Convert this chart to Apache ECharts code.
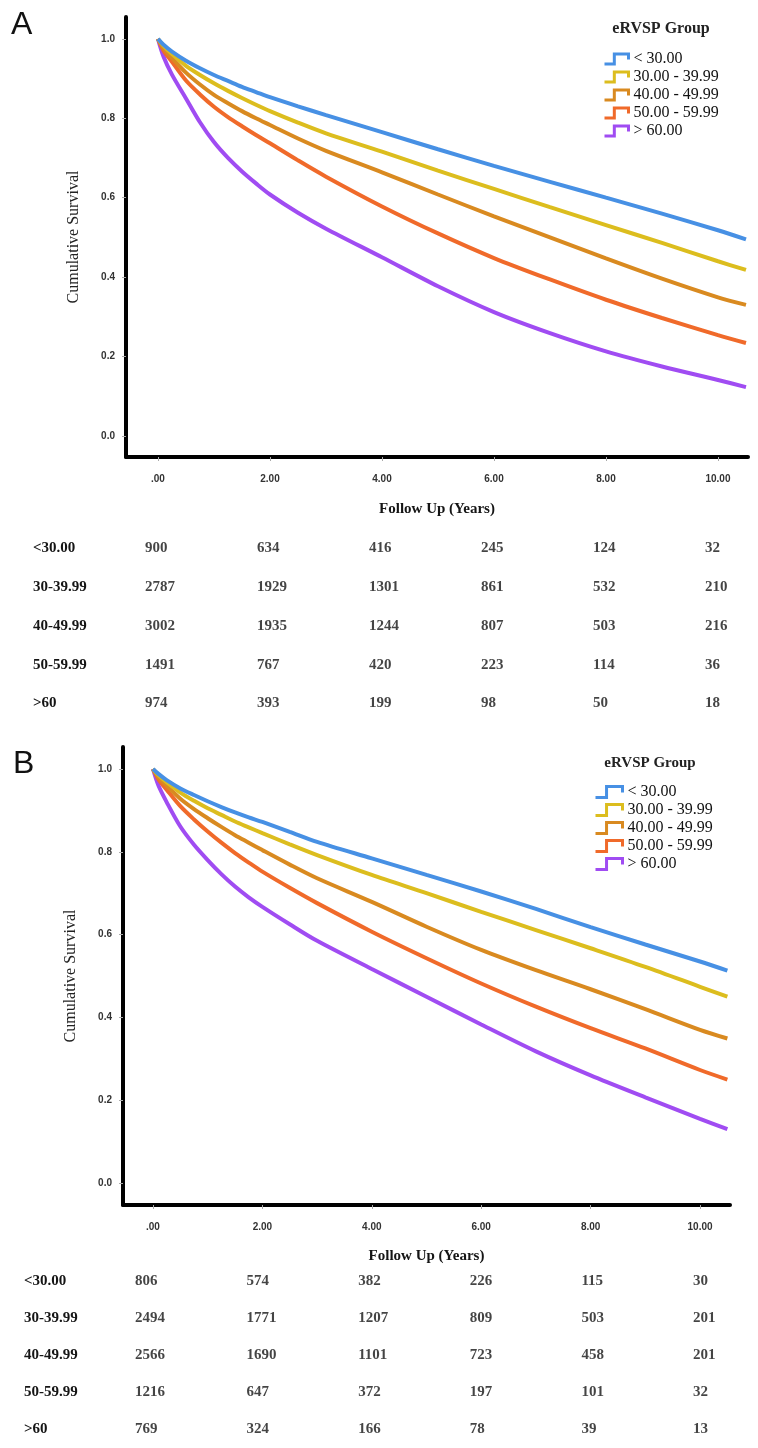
<!DOCTYPE html>
<html>
<head>
<meta charset="utf-8">
<title>eRVSP Group survival</title>
<script src="https://cdn.jsdelivr.net/npm/echarts@6/dist/echarts.min.js"></script>
<style>
  html, body { margin: 0; padding: 0; background: #fff; }
  #main { width: 758px; height: 1448px; }
</style>
</head>
<body>
<div id="main"></div>
<script>
var years = [0, 0.1, 0.25, 0.5, 0.75, 1, 1.25, 1.5, 1.75, 2, 2.5, 3, 4, 5, 6, 7, 8, 9, 10, 10.5];

// panel A survival
var blueA   = [1, 0.985, 0.968, 0.945, 0.926, 0.909, 0.894, 0.879, 0.866, 0.853, 0.830, 0.808, 0.765, 0.722, 0.680, 0.640, 0.600, 0.560, 0.518, 0.495];
var yellowA = [1, 0.982, 0.962, 0.932, 0.909, 0.888, 0.869, 0.851, 0.834, 0.818, 0.789, 0.762, 0.716, 0.668, 0.622, 0.576, 0.531, 0.486, 0.440, 0.418];
var orangeA = [1, 0.976, 0.952, 0.915, 0.885, 0.859, 0.838, 0.818, 0.800, 0.783, 0.749, 0.718, 0.664, 0.608, 0.553, 0.500, 0.447, 0.396, 0.349, 0.330];
var redA    = [1, 0.970, 0.942, 0.895, 0.860, 0.829, 0.803, 0.780, 0.758, 0.737, 0.694, 0.653, 0.578, 0.510, 0.448, 0.394, 0.343, 0.297, 0.254, 0.234];
var purpleA = [1, 0.955, 0.910, 0.850, 0.790, 0.740, 0.700, 0.666, 0.636, 0.608, 0.562, 0.522, 0.450, 0.377, 0.312, 0.259, 0.213, 0.175, 0.141, 0.123];

// panel B survival
var blueB   = [1, 0.988, 0.973, 0.953, 0.937, 0.922, 0.908, 0.895, 0.883, 0.872, 0.848, 0.824, 0.784, 0.744, 0.704, 0.662, 0.618, 0.576, 0.535, 0.513];
var yellowB = [1, 0.985, 0.968, 0.943, 0.923, 0.905, 0.889, 0.873, 0.859, 0.845, 0.818, 0.792, 0.744, 0.700, 0.655, 0.611, 0.567, 0.522, 0.474, 0.450];
var orangeB = [1, 0.980, 0.960, 0.928, 0.903, 0.881, 0.860, 0.840, 0.822, 0.804, 0.769, 0.736, 0.679, 0.619, 0.563, 0.514, 0.468, 0.420, 0.370, 0.349];
var redB    = [1, 0.975, 0.950, 0.910, 0.878, 0.849, 0.822, 0.797, 0.774, 0.752, 0.713, 0.676, 0.607, 0.543, 0.482, 0.426, 0.374, 0.325, 0.273, 0.250];
var purpleB = [1, 0.960, 0.920, 0.861, 0.817, 0.780, 0.746, 0.716, 0.690, 0.667, 0.625, 0.585, 0.517, 0.450, 0.383, 0.318, 0.260, 0.207, 0.155, 0.130];

// ticks
var xTicks = [0, 2, 4, 6, 8, 10];
var yTicks = [0, 0.2, 0.4, 0.6, 0.8, 1.0];

// numbers at risk
var riskYears = [0, 2, 4, 6, 8, 10];
var rowLabels = ['<30.00', '30-39.99', '40-49.99', '50-59.99', '>60'];
var riskA_lt30 = [900, 634, 416, 245, 124, 32];
var riskA_30 = [2787, 1929, 1301, 861, 532, 210];
var riskA_40 = [3002, 1935, 1244, 807, 503, 216];
var riskA_50 = [1491, 767, 420, 223, 114, 36];
var riskA_60 = [974, 393, 199, 98, 50, 18];
var riskB_lt30 = [806, 574, 382, 226, 115, 30];
var riskB_30 = [2494, 1771, 1207, 809, 503, 201];
var riskB_40 = [2566, 1690, 1101, 723, 458, 201];
var riskB_50 = [1216, 647, 372, 197, 101, 32];
var riskB_60 = [769, 324, 166, 78, 39, 13];

var groupNames = ['< 30.00', '30.00 - 39.99', '40.00 - 49.99', '50.00 - 59.99', '> 60.00'];
var groupColors = ['#4790e4', '#dcbd1e', '#d98a20', '#f06a2a', '#a04cf2'];

var serif = "'Liberation Serif', 'DejaVu Serif', serif";
var sans = "'Liberation Sans', Arial, sans-serif";
var stepIcon = 'path://M0,10L9,10L9,1L22,1L22,6';

var myChart = echarts.init(document.getElementById('main'));

//把年份刻度写成 .00 2.00 ...
function fmtYear (v) {
  if (v === 0) return '.00';
  return v.toFixed(2);
}

//曲线系列
function CurveSeries (curves, idx) {
  var list = [];
  for (var g = 0; g < curves.length; g++) {
    var pts = [];
    for (var i = 0; i < years.length; i++) {
      pts.push([years[i], curves[g][i]]);
    }
    list.push({
      name: groupNames[g],
      type: 'line',
      xAxisIndex: idx,
      yAxisIndex: idx,
      data: pts,
      showSymbol: false,
      smooth: 0.3,
      lineStyle: { color: groupColors[g], width: 4 },
      itemStyle: { color: groupColors[g] },
      z: 10 - g
    });
  }
  return list;
}

//风险人数表格
function RiskSeries (rows, idx) {
  var pts = [];
  for (var r = 0; r < rows.length; r++) {
    for (var c = 0; c < riskYears.length; c++) {
      pts.push([riskYears[c], r, rows[r][c]]);
    }
  }
  return {
    type: 'scatter',
    xAxisIndex: idx,
    yAxisIndex: idx,
    data: pts,
    symbolSize: 1,
    itemStyle: { color: 'rgba(0,0,0,0)' },
    silent: true,
    label: {
      show: true,
      position: 'inside',
      align: 'left',
      verticalAlign: 'middle',
      offset: [-13, 0],
      fontFamily: serif,
      fontWeight: 'bold',
      fontSize: 15,
      color: '#151515',
      formatter: function (p) { return String(p.value[2]); }
    }
  };
}

function PlotX (idx, min, max) {
  return {
    gridIndex: idx, type: 'value', min: min, max: max,
    axisLine: { show: true, onZero: false, lineStyle: { color: '#000', width: 4 } },
    axisTick: { show: true, customValues: xTicks, length: 4, lineStyle: { color: '#aaa' } },
    axisLabel: { customValues: xTicks, formatter: fmtYear, margin: 17, fontFamily: sans, fontWeight: 'bold', fontSize: 10, color: '#333' },
    splitLine: { show: false },
    name: 'Follow Up (Years)', nameLocation: 'middle', nameGap: idx === 0 ? 45 : 44,
    nameTextStyle: { fontFamily: serif, fontWeight: 'bold', fontSize: 15, color: '#151515' }
  };
}

function PlotY (idx, min, max) {
  return {
    gridIndex: idx, type: 'value', min: min, max: max,
    axisLine: { show: true, onZero: false, lineStyle: { color: '#000', width: 4 } },
    axisTick: { show: true, customValues: yTicks, length: 4, lineStyle: { color: '#aaa' } },
    axisLabel: { customValues: yTicks, formatter: function (v) { return v.toFixed(1); }, margin: 11, fontFamily: sans, fontWeight: 'bold', fontSize: 10, color: '#333' },
    splitLine: { show: false },
    name: 'Cumulative Survival', nameLocation: 'middle', nameRotate: 90, nameGap: 44,
    nameTextStyle: { fontFamily: serif, fontSize: 16, color: '#222' }
  };
}

function TableX (idx, min, max) {
  return { gridIndex: idx, type: 'value', min: min, max: max, show: false, splitLine: { show: false } };
}

function TableY (idx, margin) {
  return {
    gridIndex: idx, type: 'category', data: rowLabels, inverse: true,
    axisLine: { show: false }, axisTick: { show: false }, splitLine: { show: false },
    axisLabel: { align: 'left', margin: margin, fontFamily: serif, fontWeight: 'bold', fontSize: 15, color: '#151515' }
  };
}

function LegendItems () {
  var items = [];
  for (var g = 0; g < groupNames.length; g++) {
    items.push({
      name: groupNames[g],
      icon: stepIcon,
      itemStyle: { color: 'rgba(0,0,0,0)', borderColor: groupColors[g], borderWidth: 3 }
    });
  }
  return items;
}

var option = {
  animation: false,
  backgroundColor: '#fff',
  grid: [
    { left: 126, top: 17, width: 622, height: 440 },
    { left: 123, top: 747, width: 607, height: 458 },
    { left: 126, top: 529, width: 622, height: 194 },
    { left: 123, top: 1263, width: 607, height: 194 }
  ],
  xAxis: [
    PlotX(0, -0.571, 10.536),
    PlotX(1, -0.548, 10.548),
    TableX(2, -0.571, 10.536),
    TableX(3, -0.448, 10.43)
  ],
  yAxis: [
    PlotY(0, -0.053, 1.055),
    PlotY(1, -0.053, 1.053),
    TableY(2, 93),
    TableY(3, 99)
  ],
  legend: [
    {
      orient: 'vertical', left: 598, top: 45, itemWidth: 24, itemHeight: 12, itemGap: 0,
      selectedMode: false, data: LegendItems(),
      textStyle: { fontFamily: serif, fontSize: 16, color: '#111', lineHeight: 18 }
    },
    {
      orient: 'vertical', left: 589, top: 778, itemWidth: 27, itemHeight: 12, itemGap: 0,
      selectedMode: false, data: LegendItems(),
      textStyle: { fontFamily: serif, fontSize: 16, color: '#111', lineHeight: 18 }
    }
  ],
  graphic: [
    { type: 'text', left: 11, top: 9, style: { text: 'A', fontFamily: sans, fontSize: 32, fill: '#111' } },
    { type: 'text', left: 13, top: 748, style: { text: 'B', fontFamily: sans, fontSize: 32, fill: '#111' } },
    { type: 'text', x: 661, y: 29, style: { text: 'eRVSP Group', align: 'center', verticalAlign: 'middle', fontFamily: serif, fontWeight: 'bold', fontSize: 16, fill: '#222' } },
    { type: 'text', x: 650, y: 763, style: { text: 'eRVSP Group', align: 'center', verticalAlign: 'middle', fontFamily: serif, fontWeight: 'bold', fontSize: 15, fill: '#222' } }
  ],
  series: []
};

option.series = option.series
  .concat(CurveSeries([blueA, yellowA, orangeA, redA, purpleA], 0))
  .concat(CurveSeries([blueB, yellowB, orangeB, redB, purpleB], 1));
option.series.push(RiskSeries([riskA_lt30, riskA_30, riskA_40, riskA_50, riskA_60], 2));
option.series.push(RiskSeries([riskB_lt30, riskB_30, riskB_40, riskB_50, riskB_60], 3));

myChart.setOption(option);
</script>
</body>
</html>
